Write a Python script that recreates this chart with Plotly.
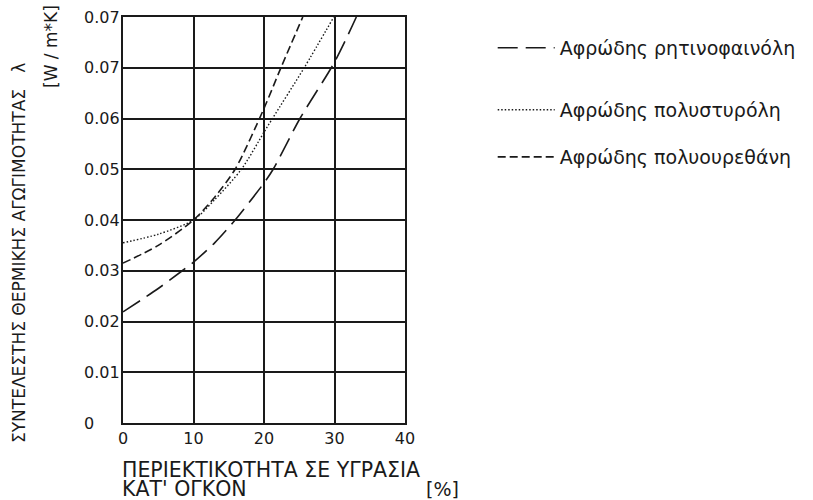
import plotly.graph_objects as go

# Moisture content by volume [%] and thermal conductivity λ [W/m*K]
phenolic_x = [0, 5, 8.4, 10, 13, 15.9, 20, 21.3, 25.1, 30, 33.1]
phenolic_y = [0.0219, 0.0265, 0.0300, 0.0317, 0.0355, 0.0400, 0.0473, 0.0500, 0.0600, 0.0711, 0.0800]

polystyrene_x = [0, 5, 10, 13, 16.8, 20, 21.2, 25.7, 29.9]
polystyrene_y = [0.0355, 0.0372, 0.0400, 0.0440, 0.0500, 0.0573, 0.0600, 0.0700, 0.0800]

polyurethane_x = [0, 5, 10, 13, 15.9, 20, 22.4, 25.5]
polyurethane_y = [0.0315, 0.0350, 0.0400, 0.0445, 0.0500, 0.0620, 0.0700, 0.0800]

x_ticks = [0, 10, 20, 30, 40]
y_tick_vals = [0, 0.01, 0.02, 0.03, 0.04, 0.05, 0.06, 0.07, 0.08]
y_tick_text = ["0", "0.01", "0.02", "0.03", "0.04", "0.05", "0.06", "0.07", "0.07"]

names = ["Αφρώδης ρητινοφαινόλη", "Αφρώδης πολυστυρόλη", "Αφρώδης πολυουρεθάνη"]

INK = "#1a1a1a"
FONT = "DejaVu Sans, Liberation Sans, Arial, sans-serif"

fig = go.Figure()
fig.add_trace(go.Scatter(x=phenolic_x, y=phenolic_y, mode="lines", name=names[0],
                         line=dict(color=INK, width=1.6, dash="20px,8px", shape="spline", smoothing=0.8),
                         legend="legend", showlegend=True))
fig.add_trace(go.Scatter(x=polystyrene_x, y=polystyrene_y, mode="lines", name=names[1],
                         line=dict(color=INK, width=1.4, dash="1.5px,2px", shape="spline", smoothing=0.8),
                         legend="legend2", showlegend=True))
fig.add_trace(go.Scatter(x=polyurethane_x, y=polyurethane_y, mode="lines", name=names[2],
                         line=dict(color=INK, width=1.6, dash="8px,4px", shape="spline", smoothing=0.8),
                         legend="legend3", showlegend=True))

legend_common = dict(xref="paper", yref="paper", xanchor="left", yanchor="middle",
                     font=dict(family=FONT, size=19, color=INK), bgcolor="rgba(255,255,255,0)",
                     itemwidth=57)
fig.update_layout(
    showlegend=True,
    legend=dict(x=1.311, y=0.924, **legend_common),
    legend2=dict(x=1.311, y=0.771, **legend_common),
    legend3=dict(x=1.311, y=0.655, **legend_common),
)

# y tick labels, left-aligned beside the axis
annotations = []
for v, t in zip(y_tick_vals, y_tick_text):
    annotations.append(dict(x=0, xref="paper", y=v, yref="y", text=t, showarrow=False,
                            xanchor="left", yanchor="middle", xshift=-41,
                            font=dict(family=FONT, size=16, color=INK)))

# y axis title (two rotated lines)
annotations.append(dict(x=0, xref="paper", y=0.4236, yref="paper", xshift=-104, yshift=-2,
                        text="ΣΥΝΤΕΛΕΣΤΗΣ ΘΕΡΜΙΚΗΣ ΑΓΩΓΙΜΟΤΗΤΑΣ\u00a0\u00a0\u00a0λ",
                        textangle=-90, showarrow=False, xanchor="center", yanchor="middle",
                        font=dict(family=FONT, size=17, color=INK)))
annotations.append(dict(x=0, xref="paper", y=1, yref="paper", xshift=-72, yshift=-30,
                        text="[W / m*K]", textangle=-90, showarrow=False,
                        xanchor="center", yanchor="middle",
                        font=dict(family=FONT, size=17, color=INK)))

# x axis title
annotations.append(dict(x=0, xref="paper", y=0, yref="paper", xshift=-3, yshift=-47,
                        text="ΠΕΡΙΕΚΤΙΚΟΤΗΤΑ ΣΕ ΥΓΡΑΣΙΑ", showarrow=False,
                        xanchor="left", yanchor="middle",
                        font=dict(family=FONT, size=20.5, color=INK)))
annotations.append(dict(x=0, xref="paper", y=0, yref="paper", xshift=-3, yshift=-65.5,
                        text="ΚΑΤ' ΟΓΚΟΝ", showarrow=False,
                        xanchor="left", yanchor="middle",
                        font=dict(family=FONT, size=20.5, color=INK)))
annotations.append(dict(x=1, xref="paper", y=0, yref="paper", xshift=19, yshift=-65.5,
                        text="[%]", showarrow=False,
                        xanchor="left", yanchor="middle",
                        font=dict(family=FONT, size=19, color=INK)))

fig.update_layout(
    width=813, height=500,
    margin=dict(l=123, r=404, t=17, b=77),
    paper_bgcolor="white", plot_bgcolor="white",
    font=dict(family=FONT, color=INK),
    annotations=annotations,
    xaxis=dict(range=[0, 40], tickvals=x_ticks, ticktext=[str(v) for v in x_ticks],
               showgrid=True, gridcolor=INK, gridwidth=2, zeroline=False,
               showline=True, linecolor=INK, linewidth=2, mirror=True,
               ticks="", tickfont=dict(family=FONT, size=16, color=INK)),
    yaxis=dict(range=[0, 0.08], tickvals=y_tick_vals, showticklabels=False,
               showgrid=True, gridcolor=INK, gridwidth=2, zeroline=False,
               showline=True, linecolor=INK, linewidth=2, mirror=True, ticks=""),
)

fig.write_html("out.html")
